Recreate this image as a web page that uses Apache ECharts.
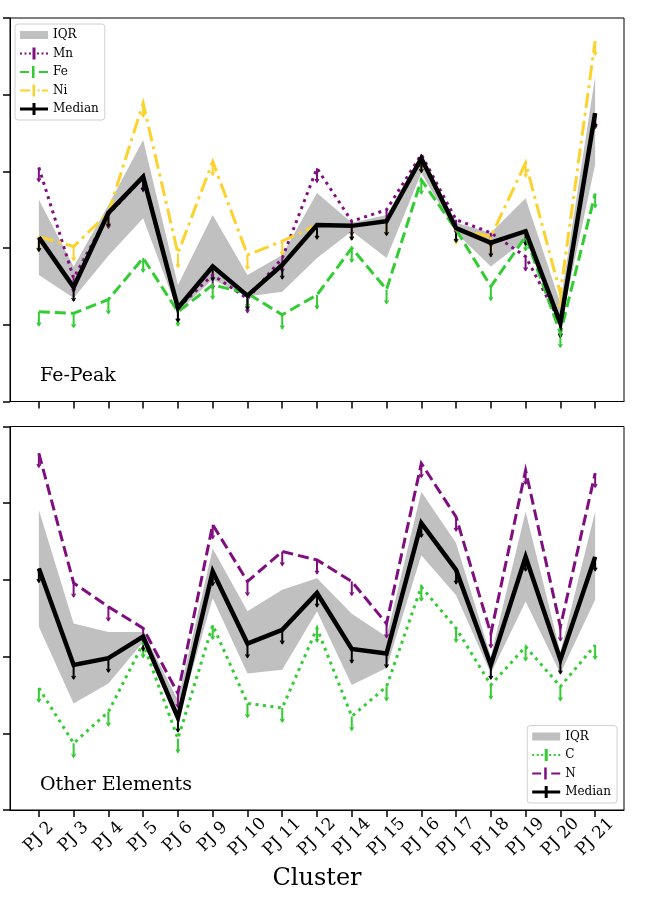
<!DOCTYPE html>
<html>
<head>
<meta charset="utf-8">
<script src="https://cdn.jsdelivr.net/npm/echarts@6/dist/echarts.min.js"></script>
<style>
  html, body { margin: 0; padding: 0; background: #fff; }
  #chart { width: 646px; height: 902px; }
</style>
</head>
<body>
<div id="chart"></div>
<script>
var clusters = ['PJ 2', 'PJ 3', 'PJ 4', 'PJ 5', 'PJ 6', 'PJ 9', 'PJ 10', 'PJ 11', 'PJ 12',
  'PJ 14', 'PJ 15', 'PJ 16', 'PJ 17', 'PJ 18', 'PJ 19', 'PJ 20', 'PJ 21'];

// Fe-peak panel
var fePeakMedian = [2.14, 1.49, 2.46, 2.93, 1.22, 1.76, 1.38, 1.78, 2.30, 2.29, 2.35, 3.17, 2.26, 2.07, 2.22, 1.02, 3.76];
var fePeakQ1 = [1.65, 1.35, 1.90, 2.39, 1.17, 1.59, 1.37, 1.43, 1.87, 2.22, 1.87, 2.98, 2.20, 1.76, 2.11, 0.96, 3.09];
var fePeakQ3 = [2.63, 1.76, 2.56, 3.41, 1.52, 2.43, 1.65, 1.91, 2.72, 2.33, 2.43, 3.22, 2.33, 2.20, 2.65, 1.28, 4.24];
var mn = [3.05, 1.61, 2.44, 2.92, 1.22, 1.65, 1.34, 1.87, 3.04, 2.35, 2.50, 3.22, 2.37, 2.20, 1.89, 1.03, 3.74];
var fe = [1.17, 1.15, 1.33, 1.87, 1.17, 1.52, 1.41, 1.13, 1.39, 2.00, 1.46, 2.89, 2.24, 1.50, 2.15, 0.89, 2.71];
var ni = [2.15, 2.02, 2.46, 3.89, 1.93, 3.13, 1.91, 2.09, 2.30, 2.29, 2.35, 3.17, 2.24, 2.15, 3.11, 1.41, 4.70];

// other elements panel
var otherMedian = [3.15, 1.89, 1.98, 2.26, 1.20, 3.11, 2.17, 2.35, 2.83, 2.10, 2.04, 3.74, 3.13, 1.89, 3.30, 1.96, 3.30];
var otherQ1 = [2.39, 1.39, 1.65, 2.19, 1.17, 2.76, 1.78, 1.83, 2.59, 1.63, 1.85, 3.32, 2.80, 1.78, 2.72, 1.78, 2.74];
var otherQ3 = [3.91, 2.43, 2.32, 2.32, 1.43, 3.41, 2.59, 2.87, 3.02, 2.56, 2.26, 4.15, 3.48, 2.00, 3.89, 2.06, 3.89];
var c = [1.59, 0.87, 1.28, 2.17, 0.93, 2.41, 1.39, 1.33, 2.37, 1.22, 1.61, 2.91, 2.37, 1.63, 2.13, 1.61, 2.15];
var n = [4.65, 2.96, 2.65, 2.37, 1.52, 3.72, 2.98, 3.37, 3.26, 2.98, 2.43, 4.52, 3.82, 2.30, 4.43, 2.39, 4.39];

var errLen = 0.18; // length of the upper-limit bars

var SERIF = '"DejaVu Serif", serif';
var PURPLE = '#7f0f7f', GREEN = '#33cc33', GOLD = '#fcd22c', GREY = '#c0c0c0';

var ticks = clusters.map(function (d, i) { return i; });

function pairs(arr) {
  return arr.map(function (v, i) { return [i, v]; });
}

function bandRender(lo, hi) {
  return function (params, api) {
    if (params.dataIndex !== 0) return null;
    var pts = [];
    for (var i = 0; i < hi.length; i++) pts.push(api.coord([i, hi[i]]));
    for (var j = lo.length - 1; j >= 0; j--) pts.push(api.coord([j, lo[j]]));
    return { type: 'polygon', shape: { points: pts }, style: { fill: GREY } };
  };
}

function errRender(color) {
  return function (params, api) {
    var x = api.value(0), v = api.value(1);
    var p0 = api.coord([x, v]);
    var p1 = api.coord([x, v - errLen]);
    return {
      type: 'group',
      children: [
        { type: 'line', shape: { x1: p0[0], y1: p0[1], x2: p1[0], y2: p1[1] },
          style: { stroke: color, lineWidth: 2 } },
        { type: 'polyline', shape: { points: [[p1[0] - 2, p1[1] - 3], [p1[0], p1[1]], [p1[0] + 2, p1[1] - 3]] },
          style: { stroke: color, lineWidth: 1.2, fill: null } }
      ]
    };
  };
}

function band(name, lo, hi, idx) {
  return {
    name: name, type: 'custom', xAxisIndex: idx, yAxisIndex: idx,
    itemStyle: { color: GREY },
    data: lo.map(function (v, i) { return [i, v, hi[i]]; }),
    encode: { x: 0, y: [1, 2] },
    renderItem: bandRender(lo, hi)
  };
}

function line(name, arr, color, width, dash, idx) {
  return {
    name: name, type: 'line', xAxisIndex: idx, yAxisIndex: idx,
    data: pairs(arr), showSymbol: false, symbol: 'none',
    itemStyle: { color: color },
    lineStyle: { color: color, width: width, type: dash, cap: 'butt', join: 'miter' }
  };
}

function err(name, arr, color, idx) {
  return {
    name: name + ' err', type: 'custom', xAxisIndex: idx, yAxisIndex: idx,
    data: pairs(arr), encode: { x: 0, y: 1 },
    renderItem: errRender(color)
  };
}

// legend icons: line pieces with an error-bar tick, box 28x12
var ICON_SOLID = 'path://M0,4.5h28v3H0z M12.5,0h3v12h-3z';
var ICON_DASH = 'path://M0,5h9v2H0z M19,5h9v2h-9z M12,0h2.5v12H12z';
var ICON_DOT = 'path://M0,5h2v2H0z M4.5,5h2v2h-2z M9,5h2v2H9z M12.5,0h3v12h-3z M17,5h2v2h-2z M21.5,5h2v2h-2z M26,5h2v2h-2z';
var ICON_DASHDOT = 'path://M0,5h10v2H0z M12.5,0h2.5v12h-2.5z M17.5,5h2v2h-2z M22,5h6v2h-6z';
var ICON_PATCH = 'path://M0,2h28v8H0z M0,0h0.01v0.01H0z M27.99,11.99h0.01v0.01h-0.01z';

function legend(pos, items) {
  return Object.assign({
    orient: 'vertical',
    itemWidth: 28, itemHeight: 12, itemGap: 6.5,
    padding: [5, 6, 5, 5],
    borderColor: '#d0d0d0', borderWidth: 1, borderRadius: 3,
    backgroundColor: 'rgba(255,255,255,0.85)',
    itemStyle: { borderWidth: 0 },
    textStyle: { fontFamily: SERIF, fontSize: 12, color: '#000' },
    selectedMode: false,
    data: items
  }, pos);
}

function xAxis(idx, showLabels) {
  var ax = {
    type: 'value', gridIndex: idx, min: -0.83, max: 16.83,
    axisLine: { show: true, onZero: false, lineStyle: { color: '#000', width: 1 } },
    axisTick: { show: true, length: 7, lineStyle: { color: '#000', width: 1.5 }, customValues: ticks },
    axisLabel: {
      show: showLabels, customValues: ticks, rotate: 45, margin: 27,
      align: 'center', verticalAlign: 'middle',
      fontFamily: SERIF, fontSize: 17, color: '#000',
      formatter: function (v) { return clusters[Math.round(v)]; }
    },
    splitLine: { show: false }
  };
  if (showLabels) {
    ax.name = 'Cluster';
    ax.nameLocation = 'middle';
    ax.nameGap = 57;
    ax.nameTextStyle = { fontFamily: SERIF, fontSize: 24, color: '#000' };
  }
  return ax;
}

function yAxis(idx) {
  return {
    type: 'value', gridIndex: idx, min: 0, max: 5, interval: 1,
    axisLine: { show: true, onZero: false, lineStyle: { color: '#000', width: 1 } },
    axisTick: { show: true, length: 7, lineStyle: { color: '#000', width: 1.5 } },
    axisLabel: { show: false },
    splitLine: { show: false }
  };
}

var chart = echarts.init(document.getElementById('chart'), null, { renderer: 'canvas' });

var option = {
  animation: false,
  backgroundColor: '#fff',
  grid: [
    { left: 10, top: 18, width: 614, height: 383.5, show: true, borderColor: '#000', borderWidth: 1, backgroundColor: '#fff' },
    { left: 10, top: 426.5, width: 614, height: 383.5, show: true, borderColor: '#000', borderWidth: 1, backgroundColor: '#fff' }
  ],
  xAxis: [xAxis(0, false), xAxis(1, true)],
  yAxis: [yAxis(0), yAxis(1)],
  legend: [
    legend({ left: 15, top: 24 }, [
      { name: 'IQR', icon: ICON_PATCH },
      { name: 'Mn', icon: ICON_DOT },
      { name: 'Fe', icon: ICON_DASH },
      { name: 'Ni', icon: ICON_DASHDOT },
      { name: 'Median', icon: ICON_SOLID }
    ]),
    legend({ right: 29, bottom: 99 }, [
      { name: 'IQR', icon: ICON_PATCH },
      { name: 'C', icon: ICON_DOT },
      { name: 'N', icon: ICON_DASH },
      { name: 'Median', icon: ICON_SOLID }
    ])
  ],
  graphic: [
    { type: 'text', left: 40, top: 367, style: { text: 'Fe-Peak', font: '19px ' + SERIF, fill: '#000' } },
    { type: 'text', left: 40, top: 776, style: { text: 'Other Elements', font: '19px ' + SERIF, fill: '#000' } }
  ],
  series: [
    band('IQR', fePeakQ1, fePeakQ3, 0),
    line('Mn', mn, PURPLE, 3, [3, 4.5], 0),
    err('Mn', mn, PURPLE, 0),
    line('Fe', fe, GREEN, 3, [11, 5], 0),
    err('Fe', fe, GREEN, 0),
    line('Ni', ni, GOLD, 3, [15, 5, 3, 5], 0),
    err('Ni', ni, GOLD, 0),
    line('Median', fePeakMedian, '#000', 4.5, 'solid', 0),
    err('Median', fePeakMedian, '#000', 0),

    band('IQR', otherQ1, otherQ3, 1),
    line('C', c, GREEN, 3, [3, 4.5], 1),
    err('C', c, GREEN, 1),
    line('N', n, PURPLE, 3, [11, 5], 1),
    err('N', n, PURPLE, 1),
    line('Median', otherMedian, '#000', 4.5, 'solid', 1),
    err('Median', otherMedian, '#000', 1)
  ]
};

chart.setOption(option);
</script>
</body>
</html>
